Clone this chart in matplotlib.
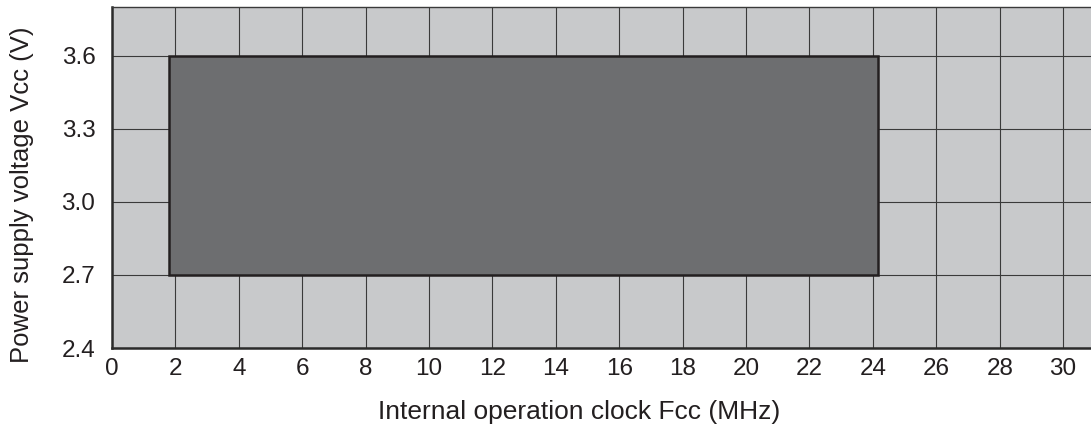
import matplotlib.pyplot as plt
import matplotlib.patches as mpatches

plt.rcParams['font.family'] = ['Liberation Sans', 'DejaVu Sans']

# operating region (MHz, V)
clock_min, clock_max = 1.8, 24.15
vcc_min, vcc_max = 2.7, 3.6

x_ticks = [0, 2, 4, 6, 8, 10, 12, 14, 16, 18, 20, 22, 24, 26, 28, 30]
y_ticks = [2.4, 2.7, 3.0, 3.3, 3.6]
y_labels = ["2.4", "2.7", "3.0", "3.3", "3.6"]

fig = plt.figure(figsize=(10.91, 4.32), dpi=100)
ax = fig.add_axes([0.1027, 0.1944, 0.8973, 0.7894])
ax.set_facecolor('#c8c9cb')
ax.set_xlim(0, 30.88)
ax.set_ylim(2.4, 3.8)

ax.set_xticks(x_ticks)
ax.set_yticks(y_ticks)
ax.set_yticklabels(y_labels)
ax.tick_params(axis='both', length=0, labelsize=17.5, colors='#231f20')
ax.tick_params(axis='x', pad=7)
ax.tick_params(axis='y', pad=12)
ax.grid(True, color='#3a3a3a', linewidth=0.8)
ax.set_axisbelow(True)

box = mpatches.Rectangle((clock_min, vcc_min), clock_max - clock_min, vcc_max - vcc_min,
                         facecolor='#6d6e70', edgecolor='#231f20', linewidth=1.8, zorder=3)
ax.add_patch(box)

for s in ['left', 'bottom']:
    ax.spines[s].set_linewidth(1.8)
    ax.spines[s].set_color('#2b2b2b')
ax.spines['top'].set_linewidth(1.0)
ax.spines['top'].set_color('#3a3a3a')
ax.spines['right'].set_visible(False)

fig.text(579 / 1091, 1 - 412 / 432, "Internal operation clock Fcc (MHz)", fontsize=19,
         color='#231f20', ha='center', va='center')
fig.text(22 / 1091, 1 - 195 / 432, "Power supply voltage Vcc (V)", fontsize=18.5,
         color='#231f20', ha='center', va='center', rotation=90)

plt.savefig("out.png", dpi=100)
